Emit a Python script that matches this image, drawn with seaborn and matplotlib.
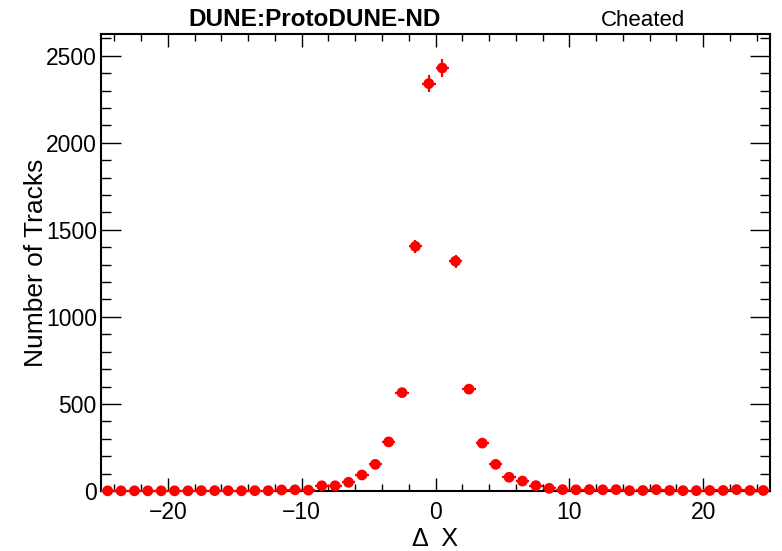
import numpy as np
import matplotlib
matplotlib.use("Agg")
import matplotlib.pyplot as plt
import seaborn as sns
from matplotlib.ticker import MultipleLocator

# bin centres of the delta-X histogram (bin width 1)
delta_x = np.arange(-24.5, 25.0, 1.0)

# track counts per bin
counts = np.array([
    1, 1, 1, 1, 1, 1, 1, 2, 2, 2, 1, 2, 2,          # -24.5 .. -12.5
    6, 7, 5, 30, 30, 50, 92, 153, 282, 565, 1405,   # -11.5 .. -1.5
    2340, 2430,                                     # -0.5, 0.5
    1320, 585, 275, 153, 79, 57, 31, 15,            # 1.5 .. 8.5
    8, 7, 8, 7, 8, 2, 3, 8, 3, 2, 2, 3, 3, 8, 3, 3, # 9.5 .. 24.5
])
x_err = np.full_like(delta_x, 0.5)
y_err = np.sqrt(counts)

title = "DUNE:ProtoDUNE-ND"
label = "Cheated"

sns.set_style("ticks")
plt.rcParams['font.family'] = ['Liberation Sans', 'DejaVu Sans']

fig = plt.figure(figsize=(7.82, 5.51), dpi=100)
ax = fig.add_axes([101 / 782, 60 / 551, 669 / 782, 457 / 551])

ax.errorbar(delta_x, counts, xerr=x_err, yerr=y_err, fmt='none',
            ecolor='red', elinewidth=1.6, capsize=0, clip_on=False, zorder=3)
sns.scatterplot(x=delta_x, y=counts, ax=ax, color='red', s=60,
                edgecolor='none', marker='o', clip_on=False, zorder=4)

ax.set_xlim(-25, 25)
ax.set_ylim(0, 2625)

ax.xaxis.set_major_locator(MultipleLocator(10))
ax.xaxis.set_minor_locator(MultipleLocator(2))
ax.yaxis.set_major_locator(MultipleLocator(500))
ax.yaxis.set_minor_locator(MultipleLocator(100))

ax.tick_params(axis='both', which='both', direction='in', top=True, right=True,
               color='black', width=1.0, labelsize=16.5, labelcolor='black')
ax.tick_params(axis='x', which='major', length=9.5, pad=7)
ax.tick_params(axis='x', which='minor', length=4.7)
ax.tick_params(axis='y', which='major', length=14.5, pad=3)
ax.tick_params(axis='y', which='minor', length=7.2)

for sp in ax.spines.values():
    sp.set_visible(True)
    sp.set_linewidth(1.5)
    sp.set_color('black')

ax.set_xlabel("\u0394  X", fontsize=18, color='black', va='center')
ax.xaxis.set_label_coords(0.5, -(539 - 491) / 457)
ax.set_ylabel("Number of Tracks", fontsize=19, color='black', va='center')
ax.yaxis.set_label_coords(-(101 - 36) / 669, 0.5)

fig.text(315 / 782, 1 - 20 / 551, title, fontsize=17.5, fontweight='bold',
         ha='center', va='center', color='black')
fig.text(643 / 782, 1 - 21 / 551, label, fontsize=16, ha='center',
         va='center', color='black')

plt.savefig("out.png", dpi=100)
